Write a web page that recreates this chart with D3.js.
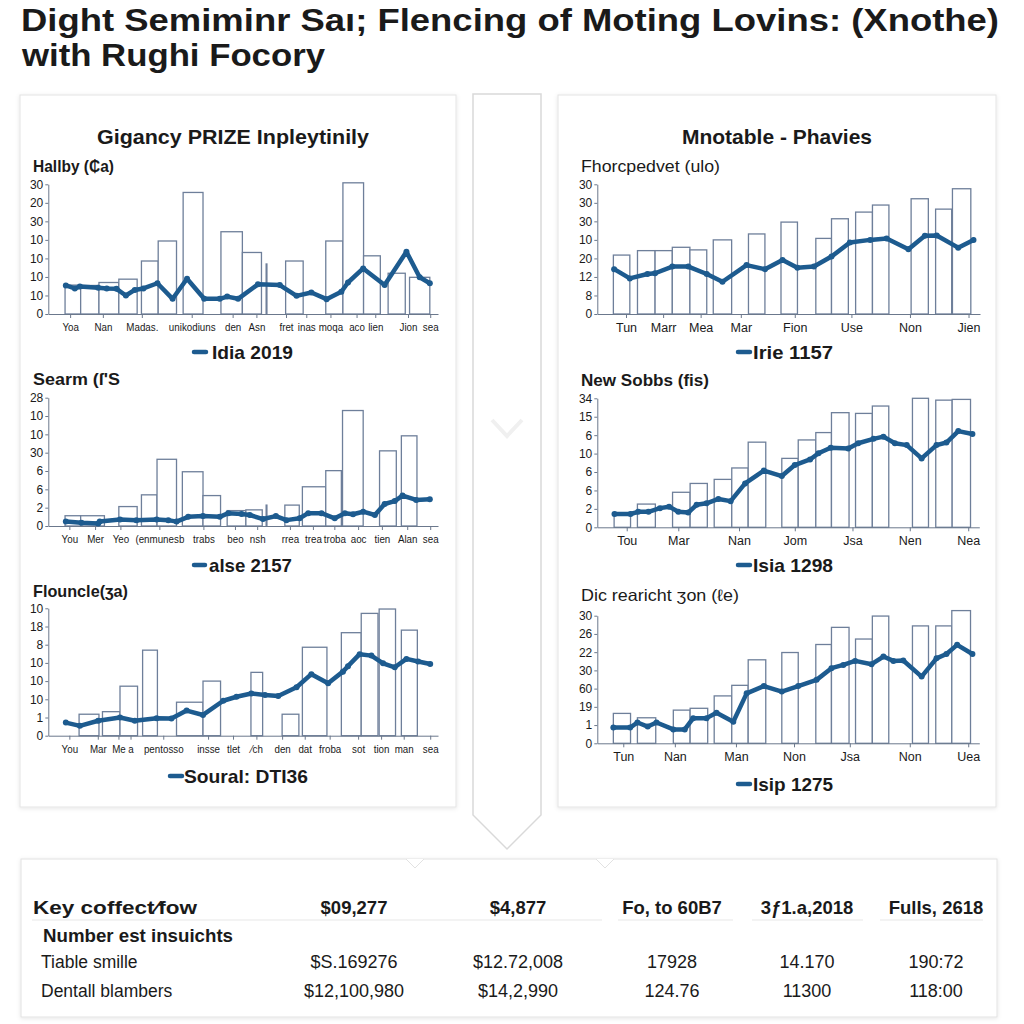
<!DOCTYPE html>
<html><head><meta charset="utf-8">
<script src="https://cdn.jsdelivr.net/npm/d3@7/dist/d3.min.js"></script>
<style>
html,body{margin:0;padding:0;background:#fff;}
svg{display:block;}
text{font-family:"Liberation Sans",Arial,sans-serif;fill:#1a1a1a;}
</style></head>
<body>
<script>
// ---------------- DATA ----------------
const titleLines = ["Dight Semiminr Saı; Flencing of Moting Lovins: (Xnothe)", "with Rughi Focory"];
const leftPanelTitle = "Gigancy PRIZE Inpleytinily";
const rightPanelTitle = "Mnotable - Phavies";

// Chart L1
const L1_subtitle = "Hallby (₵a)";
const L1_legend = "Idia 2019";
const L1_yLabels = ["0","10","10","10","10","30","20","30"];
const L1_xLabels = ["Yoa","Nan","Madas.","unikodiuns","den","Asn","fret","inas","moqa","aco","lien","Jion","sea"];
const L1_xPos = [5.6,14.0,24.0,36.8,47.3,53.4,61.0,66.2,72.4,79.1,83.9,92.3,98.0];
const L1_bars = [[4.3,8.3,7.8],[8.3,13.0,7.7],[13.0,18.1,8.5],[18.1,22.8,9.4],[23.9,28.2,14.3],[28.2,32.9,19.7],[34.6,39.7,32.8],[44.3,49.8,22.2],[49.8,54.7,16.6],[55.9,56.1,13.5],[60.9,65.4,14.3],[71.2,75.6,19.7],[75.6,80.9,35.4],[80.9,85.2,15.7],[87.2,91.6,11.0],[92.7,97.9,9.9]];
const L1_line = [[4.5,7.7],[6.8,6.9],[8.1,7.4],[12.8,7.1],[15.0,6.9],[17.5,6.8],[19.9,5.0],[22.2,6.5],[24.4,6.9],[28.0,8.3],[31.9,4.1],[35.6,9.5],[40.0,4.1],[44.0,4.1],[45.9,4.7],[48.7,4.1],[53.8,8.0],[59.4,7.8],[63.7,4.9],[67.5,5.8],[71.4,4.0],[75.2,6.0],[76.9,8.5],[80.8,12.3],[86.3,7.8],[91.9,16.8],[95.3,9.9],[97.9,8.3]];

// Chart L2
const L2_subtitle = "Searm (ſ'S";
const L2_legend = "alse 2157";
const L2_yLabels = ["0","2","6","6","30","10","10","28"];
const L2_xLabels = ["You","Mer","Yeo","(enmunesb","trabs","beo","nsh","rrea","trea","troba","aoc","tien","Alan","sea"];
const L2_xPos = [5.4,12.0,18.5,28.5,39.8,47.9,53.6,62.0,67.9,73.4,79.5,85.6,92.1,98.0];
const L2_bars = [[4.3,8.3,2.8],[8.3,14.4,2.8],[18.1,22.8,5.3],[23.9,27.9,8.5],[27.9,32.9,18.2],[34.4,39.7,14.8],[39.7,44.2,8.3],[45.9,50.7,4.2],[50.7,54.9,4.4],[55.9,56.1,5.7],[60.7,64.4,5.7],[65.2,71.2,10.7],[71.2,75.2,15.1],[75.5,80.8,31.5],[85.0,89.3,20.5],[90.6,94.6,24.6]];
const L2_line = [[4.5,1.2],[8.5,0.9],[12.8,0.7],[13.2,1.2],[18.4,1.8],[22.6,1.6],[27.8,1.8],[30.8,1.6],[32.9,1.2],[35.9,2.5],[39.7,2.7],[44.0,2.5],[46.2,3.5],[49.6,3.3],[51.7,3.0],[55.1,1.9],[58.4,2.7],[61.1,1.6],[64.5,2.1],[66.7,3.5],[70.1,3.5],[73.5,2.1],[76.1,3.5],[78.2,3.2],[80.8,3.9],[83.8,3.0],[86.3,6.0],[88.9,6.8],[90.9,8.3],[94.4,7.1],[97.9,7.3]];

// Chart L3
const L3_subtitle = "Flouncle(ʒa)";
const L3_legend = "Soural: DTI36";
const L3_yLabels = ["0","1","10","10","10","8","18","10"];
const L3_xLabels = ["You","Mar","Me","a","pentosso","insse","tlet","⁄ch","den","dat","froba","sot","tion","man","sea"];
const L3_xPos = [5.4,12.7,18.0,21.1,29.5,41.0,47.4,53.4,60.0,65.8,72.2,79.5,85.4,91.2,98.0];
const L3_bars = [[7.9,13.0,5.9],[13.9,18.4,6.6],[18.4,22.9,13.6],[24.2,28.0,23.5],[32.9,39.7,9.2],[39.7,44.2,15.0],[52.0,55.0,17.4],[60.0,64.3,5.9],[65.2,71.5,24.3],[75.2,80.3,28.3],[80.3,84.6,33.6],[84.9,89.1,34.8],[90.6,94.7,29.0]];
const L3_line = [[4.5,3.6],[8.1,2.7],[12.8,4.1],[18.4,5.0],[22.2,4.1],[27.8,4.8],[31.6,4.7],[35.5,6.9],[39.7,5.7],[44.9,9.6],[48.3,10.7],[52.1,11.6],[55.6,11.2],[59.0,10.9],[63.7,13.3],[67.5,16.9],[71.8,14.4],[75.6,17.6],[76.9,19.1],[79.9,22.4],[82.9,22.0],[85.9,19.9],[88.9,18.8],[91.9,21.1],[94.9,20.4],[98.0,19.7]];

// Chart R1
const R1_subtitle = "Fhorcpedvet (ulo)";
const R1_legend = "Irie 1157";
const R1_yLabels = ["0","8","12","20","10","30","30","30"];
const R1_xLabels = ["Tun","Marr","Mea","Mar","Fion","Use","Non","Jien"];
const R1_xPos = [7.5,17.2,27.0,37.5,51.6,66.4,81.7,97.0];
const R1_bars = [[4.2,8.5,15.9],[10.5,15.1,17.1],[15.1,19.6,17.1],[19.6,24.2,18.0],[24.2,28.6,17.3],[30.3,35.1,20.0],[39.5,43.8,21.6],[48.0,52.3,24.8],[57.1,61.2,20.4],[61.2,65.6,25.7],[67.5,71.9,27.5],[71.9,76.2,29.4],[82.0,86.5,31.1],[88.4,92.6,28.3],[92.8,97.6,33.8]];
const R1_line = [[4.4,12.1],[8.5,9.6],[13.1,10.8],[15.1,11.0],[19.6,12.8],[23.8,12.8],[28.6,10.8],[32.7,8.7],[39.0,13.2],[43.8,12.1],[48.4,14.6],[52.3,12.5],[56.6,12.8],[61.2,15.5],[66.0,19.3],[71.3,20.0],[75.6,20.4],[81.3,17.5],[85.6,21.1],[88.7,21.2],[94.3,17.9],[98.3,20.0]];

// Chart R2
const R2_subtitle = "New Sobbs (fis)";
const R2_legend = "Isia 1298";
const R2_yLabels = ["0","2","6","6","10","6","15","34"];
const R2_xLabels = ["Tou","Mar","Nan","Jom","Jsa","Nen","Nea"];
const R2_xPos = [7.7,21.2,37.1,51.7,66.8,81.8,97.1];
const R2_bars = [[4.4,8.7,3.6],[10.5,15.2,6.3],[19.7,24.3,9.5],[24.3,28.8,11.9],[30.6,35.2,13.0],[35.2,39.5,16.1],[39.5,44.1,23.1],[48.3,52.6,18.7],[52.6,57.2,23.7],[57.2,61.3,25.7],[61.3,65.9,31.1],[67.6,72.0,30.9],[72.0,76.3,32.9],[82.5,86.7,35.0],[88.6,92.9,34.5],[92.9,97.7,34.7]];
const R2_line = [[4.5,3.6],[8.7,3.6],[10.7,4.2],[13.4,4.2],[16.4,5.2],[18.8,5.6],[21.2,4.2],[23.8,4.0],[26.0,6.1],[28.6,6.5],[31.7,7.7],[34.9,7.1],[38.7,11.9],[43.6,15.4],[48.3,13.9],[51.7,16.9],[55.7,18.4],[57.9,20.1],[61.1,21.6],[65.7,21.4],[68.3,22.8],[72.3,24.0],[74.9,24.6],[77.9,22.8],[81.0,22.3],[84.9,18.7],[88.8,22.3],[91.4,23.0],[94.5,26.1],[98.2,25.3]];

// Chart R3
const R3_subtitle = "Dic rearicht ʒon (ℓe)";
const R3_legend = "Isip 1275";
const R3_yLabels = ["0","1","19","60","30","22","26","30"];
const R3_xLabels = ["Tun","Nan","Man","Non","Jsa","Non","Uea"];
const R3_xPos = [6.8,20.3,36.3,51.5,66.1,81.8,97.1];
const R3_bars = [[4.2,8.7,8.2],[10.5,15.3,7.0],[19.9,24.3,9.1],[24.3,28.9,9.6],[30.6,35.2,13.0],[35.2,39.5,15.9],[39.5,44.1,22.9],[48.3,52.6,24.9],[57.2,61.3,27.1],[61.3,65.9,31.8],[67.6,72.0,28.6],[72.0,76.3,34.9],[82.5,86.7,32.2],[88.6,92.8,32.2],[92.8,97.7,36.4]];
const R3_line = [[4.2,4.3],[8.6,4.3],[10.5,5.7],[13.2,4.6],[15.5,5.7],[19.9,3.8],[22.9,3.8],[25.1,6.9],[28.6,6.9],[31.2,8.4],[35.6,5.9],[39.1,13.7],[43.6,15.7],[48.3,14.2],[52.6,15.7],[57.4,17.4],[61.3,20.6],[64.4,21.5],[67.5,22.6],[71.8,21.7],[74.9,23.8],[77.5,22.6],[80.1,22.7],[84.9,18.3],[88.8,23.3],[91.4,24.5],[94.2,27.0],[98.2,24.5]];

// Table
const tableHeader = ["Key coffect⁄fow","$09,277","$4,877","Fo, to 60B7","3ƒ1.a,2018","Fulls, 2618"];
const tableSection = "Number est insuichts";
const tableRowLabels = ["Tiable smille","Dentall blambers"];
const tableRowValues = [["$S.169276","$12.72,008","17928","14.170","190:72"],["$12,100,980","$14,2,990","124.76","11300","118:00"]];

// ---------------- DRAWING ----------------
const BLUE = "#1d5b8f", BAR = "#6e7f9a", AXIS = "#6b788c";
const svg = d3.select("body").append("svg").attr("width",1024).attr("height",1024);
const defs = svg.append("defs");
const f = defs.append("filter").attr("id","sh").attr("x","-5%").attr("y","-5%").attr("width","110%").attr("height","110%");
f.append("feDropShadow").attr("dx",0).attr("dy",1).attr("stdDeviation",2).attr("flood-color","#000").attr("flood-opacity",0.10);

svg.append("rect").attr("width",1024).attr("height",1024).attr("fill","#fff");

// Title
svg.append("text").attr("x",21).attr("y",31).attr("font-size",32).attr("font-weight","bold")
  .attr("textLength",978).attr("lengthAdjust","spacingAndGlyphs").text(titleLines[0]);
svg.append("text").attr("x",22).attr("y",66).attr("font-size",32).attr("font-weight","bold")
  .attr("textLength",303).attr("lengthAdjust","spacingAndGlyphs").text(titleLines[1]);

// Panels
svg.append("rect").attr("x",20).attr("y",95).attr("width",436).attr("height",712).attr("fill","#fff").attr("stroke","#e4e4e4").attr("filter","url(#sh)");
svg.append("rect").attr("x",558).attr("y",95).attr("width",438).attr("height",712).attr("fill","#fff").attr("stroke","#e4e4e4").attr("filter","url(#sh)");
// center arrow strip
svg.append("path").attr("d","M473,94 L541,94 L541,815 L507,849 L473,815 Z").attr("fill","#fff").attr("stroke","#d9d9d9").attr("stroke-width",1.5);
svg.append("path").attr("d","M492,420 L507,436 L522,420").attr("fill","none").attr("stroke","#f0f0f0").attr("stroke-width",4);

// Table box
svg.append("rect").attr("x",21).attr("y",859).attr("width",976).attr("height",158).attr("fill","#fff").attr("stroke","#e2e2e2").attr("filter","url(#sh)");
[415,605].forEach(cx=>{
  svg.append("path").attr("d",`M${cx-9},859 L${cx},868 L${cx+9},859`).attr("fill","#fff").attr("stroke","#e2e2e2");
});

// Panel titles
svg.append("text").attr("x",233).attr("y",144).attr("text-anchor","middle").attr("font-size",21).attr("font-weight","bold")
  .attr("textLength",272).attr("lengthAdjust","spacingAndGlyphs").text(leftPanelTitle);
svg.append("text").attr("x",777).attr("y",144).attr("text-anchor","middle").attr("font-size",21).attr("font-weight","bold")
  .attr("textLength",190).attr("lengthAdjust","spacingAndGlyphs").text(rightPanelTitle);

function drawChart(c){
  const x = d3.scaleLinear().domain([0,100]).range([c.x0,c.x1]);
  const y = d3.scaleLinear().domain([0,35]).range([c.yBase,c.yTop]);
  const g = svg.append("g");
  // subtitle
  g.append("text").attr("x",c.subX).attr("y",c.subY).attr("font-size",16.5).attr("font-weight",c.subBold?"bold":"normal")
    .attr("textLength",c.subW).attr("lengthAdjust","spacingAndGlyphs").text(c.subtitle);
  // bars
  g.selectAll("rect.bar").data(c.bars).join("rect").attr("class","bar")
    .attr("x",d=>x(d[0])).attr("width",d=>Math.max(0.4,x(d[1])-x(d[0])))
    .attr("y",d=>y(d[2])).attr("height",d=>y(0)-y(d[2]))
    .attr("fill","#fff").attr("stroke",BAR).attr("stroke-width",1.3);
  // axes
  const ya = g.append("g").attr("transform",`translate(${c.x0},0)`)
    .call(d3.axisLeft(y).tickValues(d3.range(0,36,5)).tickFormat((d,i)=>c.yLabels[i]).tickSize(3).tickSizeOuter(0).tickPadding(2));
  ya.select(".domain").attr("stroke",AXIS);
  ya.selectAll(".tick line").attr("stroke",AXIS);
  ya.selectAll("text").attr("font-size",12).attr("fill","#333").style("font-family","'Liberation Sans',Arial,sans-serif");
  const xa = g.append("g").attr("transform",`translate(0,${c.yBase})`)
    .call(d3.axisBottom(x).tickValues(c.xPos).tickFormat((d,i)=>c.xLabels[i]).tickSize(4).tickSizeOuter(0).tickPadding(5));
  xa.select(".domain").attr("stroke",AXIS);
  xa.selectAll(".tick line").attr("stroke",AXIS);
  xa.selectAll("text").attr("font-size",c.narrow?11.5:12.5).attr("fill","#333").style("font-family","'Liberation Sans',Arial,sans-serif");
  if (c.narrow) {
    // condensed look: compress each label horizontally
    xa.selectAll("text").each(function(){
      const w = this.getComputedTextLength();
      d3.select(this).attr("textLength", w*0.85).attr("lengthAdjust","spacingAndGlyphs");
    });
  }
  // line
  const ln = d3.line().x(d=>x(d[0])).y(d=>y(d[1]));
  g.append("path").datum(c.line).attr("d",ln).attr("fill","none").attr("stroke",BLUE).attr("stroke-width",4.5)
    .attr("stroke-linejoin","round").attr("stroke-linecap","round");
  g.selectAll("circle.pt").data(c.line).join("circle").attr("class","pt").attr("cx",d=>x(d[0])).attr("cy",d=>y(d[1])).attr("r",3).attr("fill",BLUE);
  // legend
  g.append("line").attr("x1",c.legX1).attr("x2",c.legX2).attr("y1",c.legY).attr("y2",c.legY).attr("stroke",BLUE).attr("stroke-width",4.5).attr("stroke-linecap","round");
  g.append("text").attr("x",c.legTX).attr("y",c.legY+7).attr("font-size",19).attr("font-weight","bold")
    .attr("textLength",c.legTW).attr("lengthAdjust","spacingAndGlyphs").text(c.legend);
}

drawChart({x0:48.3,x1:438,yBase:314,yTop:184.3,bars:L1_bars,line:L1_line,xLabels:L1_xLabels,xPos:L1_xPos,yLabels:L1_yLabels,narrow:true,
  subtitle:L1_subtitle,subX:33,subY:172,subW:81,subBold:true,legend:L1_legend,legX1:194,legX2:206,legY:352,legTX:212,legTW:81});
drawChart({x0:48.3,x1:438,yBase:526,yTop:397.7,bars:L2_bars,line:L2_line,xLabels:L2_xLabels,xPos:L2_xPos,yLabels:L2_yLabels,narrow:true,
  subtitle:L2_subtitle,subX:33,subY:385,subW:87,subBold:true,legend:L2_legend,legX1:194,legX2:205,legY:565,legTX:209,legTW:83});
drawChart({x0:48.3,x1:438,yBase:735.7,yTop:608.3,bars:L3_bars,line:L3_line,xLabels:L3_xLabels,xPos:L3_xPos,yLabels:L3_yLabels,narrow:true,
  subtitle:L3_subtitle,subX:33,subY:597,subW:95,subBold:true,legend:L3_legend,legX1:170,legX2:182,legY:776,legTX:184,legTW:124});
drawChart({x0:597.3,x1:980,yBase:314,yTop:184.3,bars:R1_bars,line:R1_line,xLabels:R1_xLabels,xPos:R1_xPos,yLabels:R1_yLabels,narrow:false,
  subtitle:R1_subtitle,subX:581,subY:172,subW:139,subBold:false,legend:R1_legend,legX1:738,legX2:750,legY:352,legTX:753,legTW:80});
drawChart({x0:597.3,x1:979.3,yBase:527.3,yTop:398.3,bars:R2_bars,line:R2_line,xLabels:R2_xLabels,xPos:R2_xPos,yLabels:R2_yLabels,narrow:false,
  subtitle:R2_subtitle,subX:581,subY:386,subW:128,subBold:true,legend:R2_legend,legX1:738,legX2:750,legY:565,legTX:753,legTW:80});
drawChart({x0:597.3,x1:979.3,yBase:743.3,yTop:615.7,bars:R3_bars,line:R3_line,xLabels:R3_xLabels,xPos:R3_xPos,yLabels:R3_yLabels,narrow:false,
  subtitle:R3_subtitle,subX:581,subY:601,subW:158,subBold:false,legend:R3_legend,legX1:738,legX2:750,legY:784,legTX:753,legTW:80});

// Table content
const colX = [354,518,672,807,936];
const tg = svg.append("g");
tg.append("text").attr("x",33).attr("y",914).attr("font-size",19).attr("font-weight","bold")
  .attr("textLength",164).attr("lengthAdjust","spacingAndGlyphs").text(tableHeader[0]);
tg.selectAll("text.hv").data(tableHeader.slice(1)).join("text").attr("class","hv")
  .attr("x",(d,i)=>colX[i]).attr("y",914).attr("text-anchor","middle").attr("font-size",18.5).attr("font-weight","bold").text(d=>d);
[[32,602],[618,733],[752,863],[880,983]].forEach(s=>{
  tg.append("line").attr("x1",s[0]).attr("x2",s[1]).attr("y1",920).attr("y2",920).attr("stroke","#e8e8e8").attr("stroke-width",1.2);
});
tg.append("text").attr("x",43).attr("y",942).attr("font-size",19).attr("font-weight","bold")
  .attr("textLength",190).attr("lengthAdjust","spacingAndGlyphs").text(tableSection);
const rowY = [968,997];
tableRowLabels.forEach((lab,r)=>{
  tg.append("text").attr("x",41).attr("y",rowY[r]).attr("font-size",17.5).attr("fill","#222").text(lab);
  tableRowValues[r].forEach((v,i)=>{
    tg.append("text").attr("x",colX[i]).attr("y",rowY[r]).attr("text-anchor","middle").attr("font-size",18).attr("fill","#222").text(v);
  });
});
</script>
</body></html>
